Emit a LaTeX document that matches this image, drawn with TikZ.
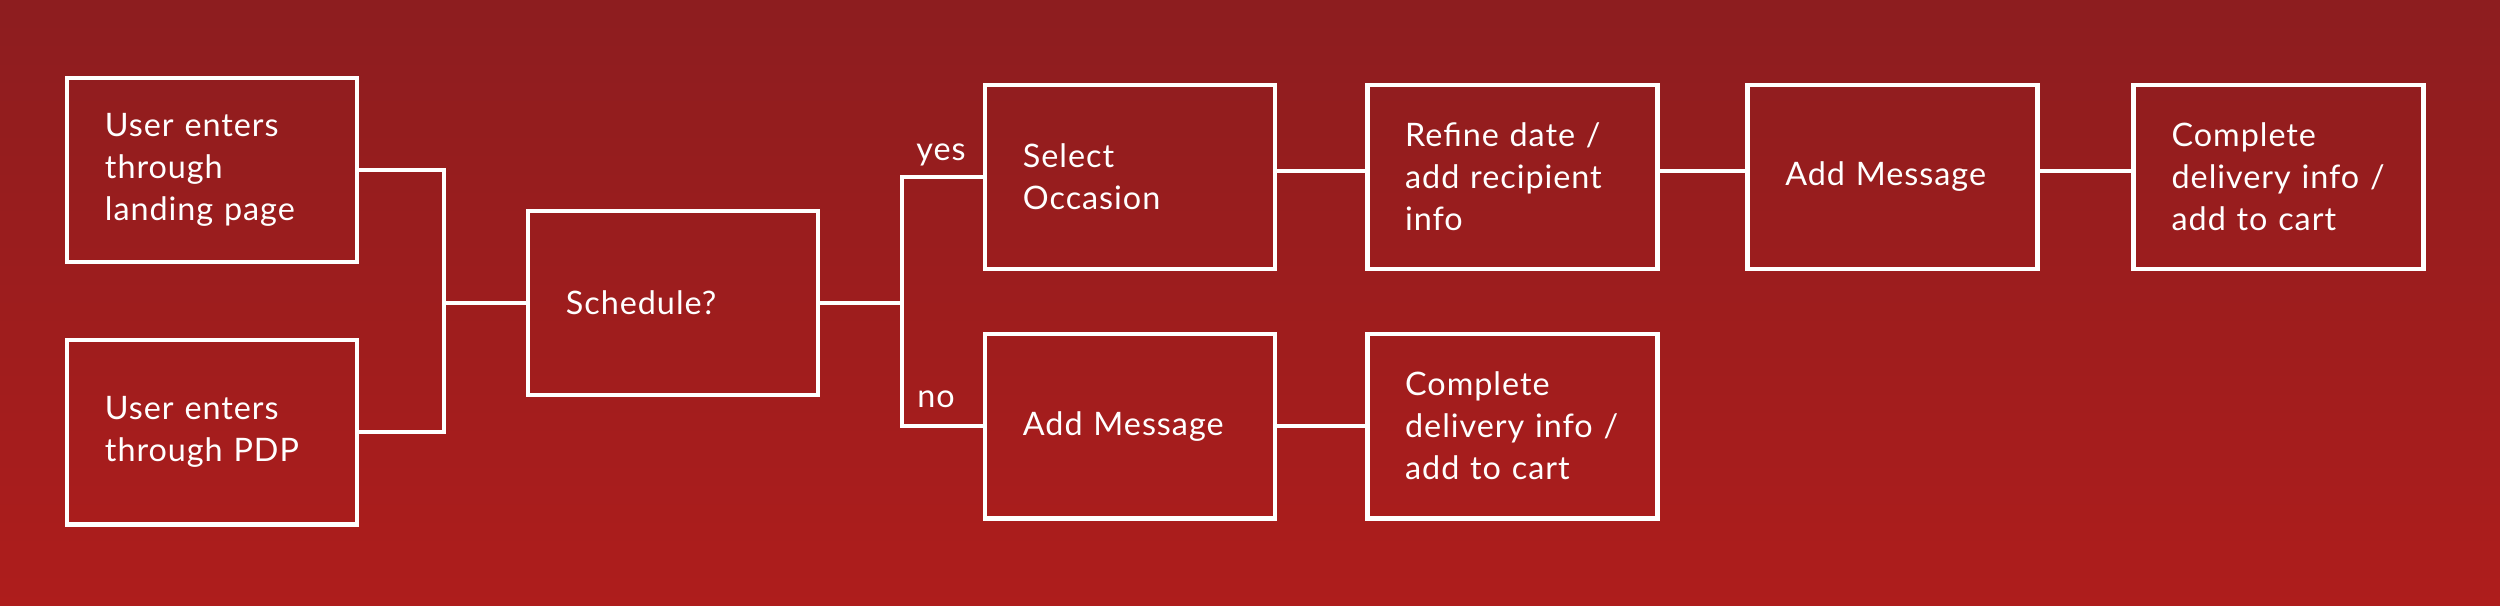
\documentclass[tikz,border=0pt]{standalone}
\usepackage{fontspec}
\setmainfont{Lato}[LetterSpace=3]
\usetikzlibrary{positioning}

\definecolor{bgtop}{RGB}{141,29,31}
\definecolor{bgbot}{RGB}{174,29,28}

\tikzset{
  box/.style={draw=white, line width=1.35pt, text=white, align=left,
    text width=2.14cm, inner xsep=0.38cm, minimum height=1.84cm,
    font=\fontsize{9.2}{11.95}\selectfont},
  lbl/.style={text=white, inner sep=0pt, font=\fontsize{9.2}{11.95}\selectfont},
  link/.style={draw=white, line width=1.3pt}
}

\begin{document}
\begin{tikzpicture}[x=0.01cm, y=-0.01cm, node distance=3.82cm, on grid]
    \fill[top color=bgtop, bottom color=bgbot] (0,0) rectangle (2500,605);

    \node[box] (landing) at (212,170) {User enters\\through\\landing page};
    \node[box] (pdp) [below=2.62cm of landing] {User enters\\through PDP};
    \node[box] (sched) at (673,303) {Schedule?};
    \node[box] (occasion) at (1130,177) {Select\\Occasion};
    \node[box] (refine) [right=of occasion] {Refine date /\\add recipient\\info};
    \node[box] (msg1) [right=3.80cm of refine] {Add Message};
    \node[box] (cart1) [right=3.86cm of msg1] {Complete\\delivery info /\\add to cart};
    \node[box] (msg2) [below=2.49cm of occasion] {Add Message};
    \node[box] (cart2) [right=of msg2] {Complete\\delivery info /\\add to cart};

    \coordinate (join) at (444,303);
    \coordinate (split) at (902,303);

    \node[lbl, anchor=base] (yes) at (941,160) {yes};
    \node[lbl, anchor=base] (no) at (936,407) {no};

    \path[link] (landing.east) -| (join) |- (pdp.east)
                (join) -- (sched.west)
                (sched.east) -- (split)
                (occasion.west) -| (split) |- (msg2.west)
                ([yshift=0.06cm]occasion.east) -- ([yshift=0.06cm]refine.west)
                ([yshift=0.06cm]refine.east) -- ([yshift=0.06cm]msg1.west)
                ([yshift=0.06cm]msg1.east) -- ([yshift=0.06cm]cart1.west)
                (msg2) -- (cart2);
\end{tikzpicture}
\end{document}
